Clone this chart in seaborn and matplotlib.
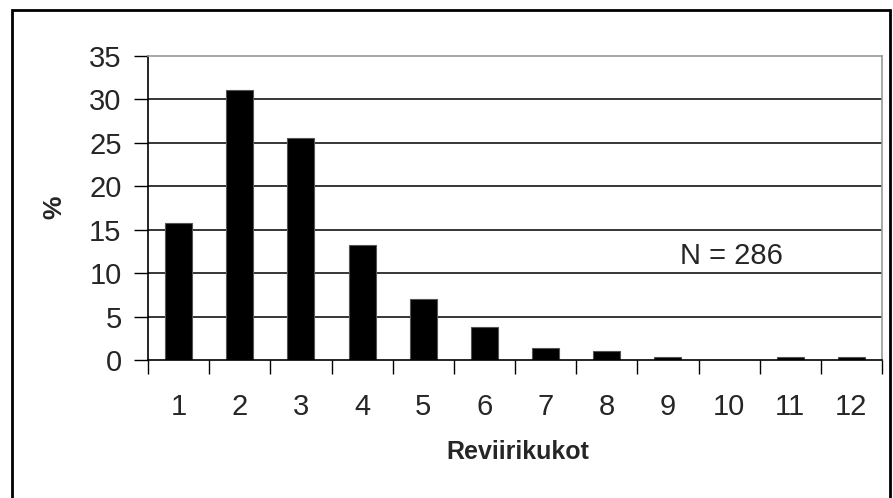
import matplotlib
matplotlib.use("Agg")
import matplotlib.pyplot as plt
import seaborn as sns
import pandas as pd
from matplotlib.patches import Rectangle

# territory male counts and share (%), N = 286
categories = ["1", "2", "3", "4", "5", "6", "7", "8", "9", "10", "11", "12"]
percent = [15.73, 31.12, 25.52, 13.29, 6.99, 3.85, 1.40, 1.05, 0.35, 0.0, 0.35, 0.35]
y_ticks = [0, 5, 10, 15, 20, 25, 30, 35]
n_label = "N = 286"

df = pd.DataFrame({"kukot": categories, "pct": percent})

sns.set_style("white")
plt.rcParams["font.family"] = ["Liberation Sans", "DejaVu Sans"]

fig = plt.figure(figsize=(8.93, 4.98), dpi=100)
ax = fig.add_axes([148 / 893, 1 - 360 / 498, 734 / 893, 304 / 498])

sns.barplot(data=df, x="kukot", y="pct", order=categories, color="black",
            width=0.44, edgecolor="#555555", linewidth=0.8, saturation=1, ax=ax)

ax.set_ylim(0, 35)
ax.set_xlim(-0.5, len(categories) - 0.5)
ax.set_yticks(y_ticks)
for v in y_ticks[1:-1]:
    ax.axhline(v, color="black", lw=1.1, zorder=0)

# category boundary ticks
ax.set_xticks([i - 0.5 for i in range(len(categories) + 1)], minor=True)
ax.tick_params(axis="x", which="major", length=0, pad=24, labelsize=21)
ax.tick_params(axis="x", which="minor", length=10, width=1, color="black", direction="out")
ax.tick_params(axis="y", length=10, width=1, color="black", direction="out", pad=9, labelsize=21)
ax.tick_params(left=True, bottom=True, which="both")

for s in ["top", "right"]:
    ax.spines[s].set_color("#999999")
    ax.spines[s].set_linewidth(1.2)
for s in ["left", "bottom"]:
    ax.spines[s].set_color("black")
    ax.spines[s].set_linewidth(1.2)

ax.set_xlabel("Reviirikukot", fontsize=18, fontweight="bold", va="center")
ax.xaxis.set_label_coords(0.504, -0.303)
ax.set_ylabel("%", fontsize=19, fontweight="bold", va="center")
ax.yaxis.set_label_coords(-0.127, 0.503)
ax.text(8.2, 12.0, n_label, fontsize=21, ha="left", va="center")

# outer chart frame
fig.patches.append(Rectangle((12 / 893, -0.02), 878 / 893, 1 - 10 / 498 + 0.02,
                             transform=fig.transFigure, fill=False,
                             edgecolor="black", linewidth=2))

fig.savefig("out.png", dpi=100)
